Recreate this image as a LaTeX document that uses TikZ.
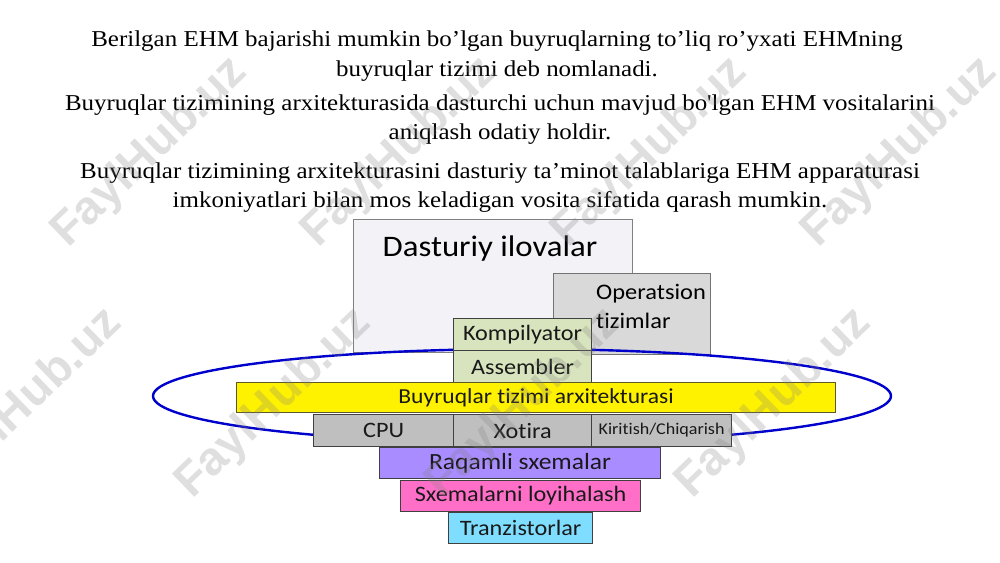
\documentclass[tikz,border=0pt]{standalone}
\usepackage{fontspec}
\setmainfont[FakeStretch=1.1, Ligatures=TeXOff]{Liberation Serif}
\newfontfamily\calibri[FakeStretch=1.1, Ligatures=NoCommon]{Carlito}
\newfontfamily\wmfont{Liberation Sans}
\usetikzlibrary{shapes.geometric}
\definecolor{appfill}{HTML}{F2F2F7}
\definecolor{osfill}{HTML}{D9D9D9}
\definecolor{compfill}{HTML}{D7E4BD}
\definecolor{hwfill}{HTML}{BFBFBF}
\definecolor{digfill}{HTML}{A98CFF}
\definecolor{desfill}{HTML}{FF6FC8}
\definecolor{trfill}{HTML}{7FDDFF}
\definecolor{ringblue}{HTML}{0000CC}
\definecolor{boxline}{HTML}{404040}
\begin{document}
\begin{tikzpicture}[x=1pt,y=-1pt,
  topline/.style={anchor=base, inner sep=0, font=\fontsize{22.7}{27}\selectfont},
  cell/.style={draw=boxline, line width=1.2pt, inner sep=0, anchor=north west,
    font=\calibri\fontsize{22}{25}\selectfont, text=black!90},
  wm/.style={rotate=44, text=gray, opacity=0.25, inner sep=0,
    font=\wmfont\bfseries\fontsize{47}{50}\selectfont}]
\useasboundingbox (0,0) rectangle (1000,562);
\fill[white] (0,0) rectangle (1000,562);
% top text
\node[topline] (l1) at (497,46) {Berilgan EHM bajarishi mumkin bo’lgan buyruqlarning to’liq ro’yxati EHMning};
\node[topline] (l2) at (497,76) {buyruqlar tizimi deb nomlanadi.};
\node[topline] (l3) at (500,110) {Buyruqlar tizimining arxitekturasida dasturchi uchun mavjud bo'lgan EHM vositalarini};
\node[topline] (l4) at (500,139) {aniqlash odatiy holdir.};
\node[topline] (l5) at (500,178) {Buyruqlar tizimining arxitekturasini dasturiy ta’minot talablariga EHM apparaturasi};
\node[topline] (l6) at (500,207) {imkoniyatlari bilan mos keladigan vosita sifatida qarash mumkin.};
% software layers
\node[cell, draw=black!50, fill=appfill, minimum width=279pt, minimum height=133pt] (apps) at (353,219) {};
\node[anchor=base, inner sep=0, font=\calibri\fontsize{29.8}{32}\selectfont] (appst) at (490,256) {Dasturiy ilovalar};
\node[cell, draw=black!55, fill=osfill, minimum width=157pt, minimum height=81pt] (os) at (553,273) {};
\node[anchor=base west, inner sep=0, font=\calibri\fontsize{22.2}{26}\selectfont] (ost1) at (596,299) {Operatsion};
\node[anchor=base west, inner sep=0, font=\calibri\fontsize{22.2}{26}\selectfont] (ost2) at (596,328) {tizimlar};
% ring
\node[draw=ringblue, line width=2.4pt, ellipse, inner sep=0, minimum width=738pt, minimum height=94pt] (ring) at (522,396) {};
% layers
\node[cell, fill=compfill, minimum width=138pt, minimum height=32pt] (comp) at (453,318) {Kompilyator};
\node[cell, fill=compfill, minimum width=138pt, minimum height=32pt] (asm) at (453,350) {Assembler};
\node[cell, draw=black!45!olive, fill=yellow, minimum width=599pt, minimum height=30pt, font=\calibri\fontsize{21.4}{24}\selectfont] (isa) at (236,382) {Buyruqlar tizimi arxitekturasi};
\node[cell, fill=hwfill, minimum width=140pt, minimum height=32pt] (cpu) at (313,414) {CPU};
\node[cell, fill=hwfill, minimum width=138pt, minimum height=32pt] (mem) at (453,414) {Xotira};
\node[cell, fill=hwfill, minimum width=140pt, minimum height=32pt, font=\calibri\fontsize{16.4}{19}\selectfont] (io) at (591,414) {Kiritish/Chiqarish};
\node[cell, fill=digfill, minimum width=281pt, minimum height=31pt, font=\calibri\fontsize{23.2}{26}\selectfont] (dig) at (379,447) {Raqamli sxemalar};
\node[cell, fill=desfill, minimum width=240pt, minimum height=31pt] (des) at (400,480) {Sxemalarni loyihalash};
\node[cell, fill=trfill, minimum width=144pt, minimum height=31pt] (tr) at (448,512) {Tranzistorlar};
% watermarks
\foreach \x/\y [count=\i] in {150/153, 400/153, 650/153, 900/153, 25/404, 274/404, 524/404, 774/404}
  \node[wm] (wm\i) at (\x,\y) {FaylHub.uz};
\end{tikzpicture}
\end{document}
